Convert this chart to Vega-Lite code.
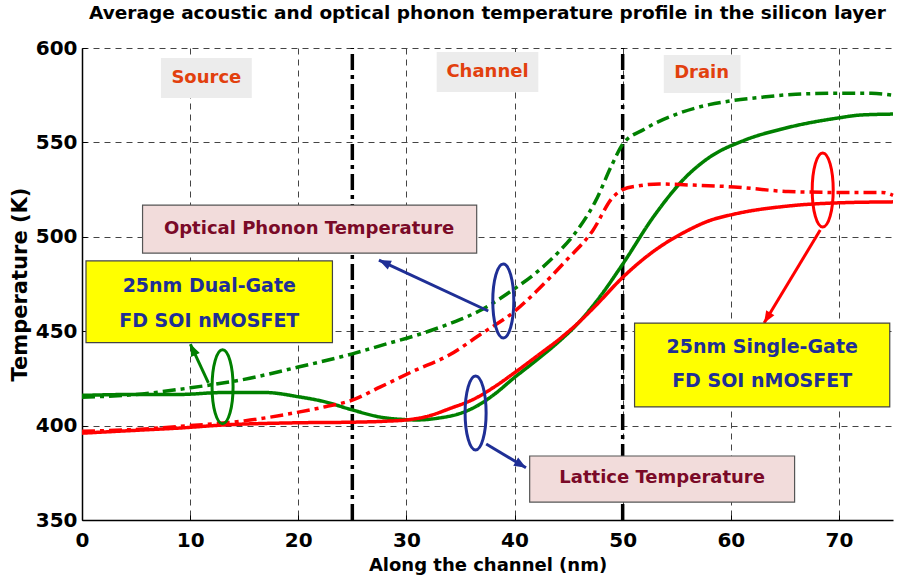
{
  "$schema": "https://vega.github.io/schema/vega-lite/v6.json",
  "width": 811,
  "height": 472,
  "autosize": {"type": "none"},
  "padding": {"left": 82, "top": 48, "right": 4, "bottom": 64},
  "background": "white",
  "title": {
    "text": "Average acoustic and optical phonon temperature profile in the silicon layer",
    "font": "DejaVu Sans", "fontSize": 18.5, "fontWeight": "bold", "color": "black",
    "anchor": "middle", "offset": 16
  },
  "config": {
    "view": {"stroke": null},
    "axis": {
      "labelFont": "DejaVu Sans", "labelFontWeight": "bold", "labelColor": "black",
      "titleFont": "DejaVu Sans", "titleFontWeight": "bold", "titleColor": "black",
      "grid": true, "gridColor": "#444", "gridDash": [6, 5], "gridWidth": 1,
      "domainColor": "black", "domainWidth": 1.5,
      "ticks": true, "tickColor": "black", "tickSize": -5, "tickWidth": 1
    }
  },
  "datasets": {
    "curves": [
      {"x":0,"y":415,"device":"Dual-Gate","type":"Optical"},
      {"x":5,"y":416.5,"device":"Dual-Gate","type":"Optical"},
      {"x":10,"y":420,"device":"Dual-Gate","type":"Optical"},
      {"x":15,"y":424.5,"device":"Dual-Gate","type":"Optical"},
      {"x":20,"y":431,"device":"Dual-Gate","type":"Optical"},
      {"x":25,"y":438,"device":"Dual-Gate","type":"Optical"},
      {"x":28,"y":443,"device":"Dual-Gate","type":"Optical"},
      {"x":31,"y":448,"device":"Dual-Gate","type":"Optical"},
      {"x":34,"y":454,"device":"Dual-Gate","type":"Optical"},
      {"x":37,"y":461.5,"device":"Dual-Gate","type":"Optical"},
      {"x":40,"y":472.5,"device":"Dual-Gate","type":"Optical"},
      {"x":42,"y":481,"device":"Dual-Gate","type":"Optical"},
      {"x":44,"y":491.5,"device":"Dual-Gate","type":"Optical"},
      {"x":46,"y":505,"device":"Dual-Gate","type":"Optical"},
      {"x":47.5,"y":519,"device":"Dual-Gate","type":"Optical"},
      {"x":49,"y":538,"device":"Dual-Gate","type":"Optical"},
      {"x":50,"y":549,"device":"Dual-Gate","type":"Optical"},
      {"x":52,"y":557,"device":"Dual-Gate","type":"Optical"},
      {"x":55,"y":565,"device":"Dual-Gate","type":"Optical"},
      {"x":58,"y":570,"device":"Dual-Gate","type":"Optical"},
      {"x":60,"y":572,"device":"Dual-Gate","type":"Optical"},
      {"x":63,"y":574,"device":"Dual-Gate","type":"Optical"},
      {"x":66,"y":575.5,"device":"Dual-Gate","type":"Optical"},
      {"x":70,"y":576,"device":"Dual-Gate","type":"Optical"},
      {"x":73,"y":576,"device":"Dual-Gate","type":"Optical"},
      {"x":75,"y":575,"device":"Dual-Gate","type":"Optical"},

      {"x":0,"y":416,"device":"Dual-Gate","type":"Lattice"},
      {"x":5,"y":416.5,"device":"Dual-Gate","type":"Lattice"},
      {"x":9,"y":416.5,"device":"Dual-Gate","type":"Lattice"},
      {"x":13,"y":417.5,"device":"Dual-Gate","type":"Lattice"},
      {"x":17,"y":417.5,"device":"Dual-Gate","type":"Lattice"},
      {"x":20,"y":415.3,"device":"Dual-Gate","type":"Lattice"},
      {"x":22.4,"y":412.7,"device":"Dual-Gate","type":"Lattice"},
      {"x":25,"y":408.3,"device":"Dual-Gate","type":"Lattice"},
      {"x":27.6,"y":404.5,"device":"Dual-Gate","type":"Lattice"},
      {"x":29.5,"y":403.3,"device":"Dual-Gate","type":"Lattice"},
      {"x":31,"y":403,"device":"Dual-Gate","type":"Lattice"},
      {"x":33,"y":404,"device":"Dual-Gate","type":"Lattice"},
      {"x":35,"y":406.5,"device":"Dual-Gate","type":"Lattice"},
      {"x":36.4,"y":410,"device":"Dual-Gate","type":"Lattice"},
      {"x":38,"y":416,"device":"Dual-Gate","type":"Lattice"},
      {"x":40,"y":425.5,"device":"Dual-Gate","type":"Lattice"},
      {"x":42,"y":434.5,"device":"Dual-Gate","type":"Lattice"},
      {"x":44,"y":444,"device":"Dual-Gate","type":"Lattice"},
      {"x":46,"y":455,"device":"Dual-Gate","type":"Lattice"},
      {"x":47.6,"y":466,"device":"Dual-Gate","type":"Lattice"},
      {"x":50,"y":485.5,"device":"Dual-Gate","type":"Lattice"},
      {"x":52.9,"y":511,"device":"Dual-Gate","type":"Lattice"},
      {"x":55.9,"y":532,"device":"Dual-Gate","type":"Lattice"},
      {"x":58,"y":542,"device":"Dual-Gate","type":"Lattice"},
      {"x":61.2,"y":551,"device":"Dual-Gate","type":"Lattice"},
      {"x":65,"y":557.5,"device":"Dual-Gate","type":"Lattice"},
      {"x":70,"y":563,"device":"Dual-Gate","type":"Lattice"},
      {"x":72,"y":564.5,"device":"Dual-Gate","type":"Lattice"},
      {"x":75,"y":565,"device":"Dual-Gate","type":"Lattice"},

      {"x":0,"y":397,"device":"Single-Gate","type":"Optical"},
      {"x":5,"y":398,"device":"Single-Gate","type":"Optical"},
      {"x":10,"y":400,"device":"Single-Gate","type":"Optical"},
      {"x":15,"y":402.5,"device":"Single-Gate","type":"Optical"},
      {"x":19.9,"y":407,"device":"Single-Gate","type":"Optical"},
      {"x":22.5,"y":410,"device":"Single-Gate","type":"Optical"},
      {"x":25,"y":413.5,"device":"Single-Gate","type":"Optical"},
      {"x":27.6,"y":420.5,"device":"Single-Gate","type":"Optical"},
      {"x":30.7,"y":429,"device":"Single-Gate","type":"Optical"},
      {"x":34,"y":437.5,"device":"Single-Gate","type":"Optical"},
      {"x":36.9,"y":448.5,"device":"Single-Gate","type":"Optical"},
      {"x":40,"y":460.5,"device":"Single-Gate","type":"Optical"},
      {"x":42,"y":471,"device":"Single-Gate","type":"Optical"},
      {"x":44.7,"y":487,"device":"Single-Gate","type":"Optical"},
      {"x":47.2,"y":503,"device":"Single-Gate","type":"Optical"},
      {"x":49.1,"y":521,"device":"Single-Gate","type":"Optical"},
      {"x":50,"y":525,"device":"Single-Gate","type":"Optical"},
      {"x":51.5,"y":527,"device":"Single-Gate","type":"Optical"},
      {"x":53.4,"y":528,"device":"Single-Gate","type":"Optical"},
      {"x":56,"y":527.5,"device":"Single-Gate","type":"Optical"},
      {"x":60.3,"y":526.4,"device":"Single-Gate","type":"Optical"},
      {"x":65.3,"y":524,"device":"Single-Gate","type":"Optical"},
      {"x":70,"y":523.5,"device":"Single-Gate","type":"Optical"},
      {"x":74,"y":523.5,"device":"Single-Gate","type":"Optical"},
      {"x":75,"y":522,"device":"Single-Gate","type":"Optical"},

      {"x":0,"y":396,"device":"Single-Gate","type":"Lattice"},
      {"x":5,"y":397.5,"device":"Single-Gate","type":"Lattice"},
      {"x":9,"y":398.7,"device":"Single-Gate","type":"Lattice"},
      {"x":13,"y":400.3,"device":"Single-Gate","type":"Lattice"},
      {"x":20,"y":401.5,"device":"Single-Gate","type":"Lattice"},
      {"x":25,"y":401.8,"device":"Single-Gate","type":"Lattice"},
      {"x":28,"y":402.3,"device":"Single-Gate","type":"Lattice"},
      {"x":30,"y":403,"device":"Single-Gate","type":"Lattice"},
      {"x":32,"y":405,"device":"Single-Gate","type":"Lattice"},
      {"x":34,"y":409,"device":"Single-Gate","type":"Lattice"},
      {"x":36.4,"y":414.5,"device":"Single-Gate","type":"Lattice"},
      {"x":38,"y":420,"device":"Single-Gate","type":"Lattice"},
      {"x":40,"y":428,"device":"Single-Gate","type":"Lattice"},
      {"x":42,"y":436.5,"device":"Single-Gate","type":"Lattice"},
      {"x":44.4,"y":447,"device":"Single-Gate","type":"Lattice"},
      {"x":46,"y":455,"device":"Single-Gate","type":"Lattice"},
      {"x":47.5,"y":463.5,"device":"Single-Gate","type":"Lattice"},
      {"x":50,"y":478.5,"device":"Single-Gate","type":"Lattice"},
      {"x":52.9,"y":492.5,"device":"Single-Gate","type":"Lattice"},
      {"x":55.9,"y":503,"device":"Single-Gate","type":"Lattice"},
      {"x":58,"y":508.5,"device":"Single-Gate","type":"Lattice"},
      {"x":60.3,"y":512,"device":"Single-Gate","type":"Lattice"},
      {"x":65.3,"y":516.3,"device":"Single-Gate","type":"Lattice"},
      {"x":70,"y":518,"device":"Single-Gate","type":"Lattice"},
      {"x":75,"y":518.5,"device":"Single-Gate","type":"Lattice"}
    ],
    "markers": [{"x": 25}, {"x": 50}],
    "regionBoxes": [
      {"label":"Source","x":7.3,"x2":15.7,"y":573.5,"y2":594.7,"xc":11.5,"yc":584},
      {"label":"Channel","x":32.8,"x2":42.2,"y":576.7,"y2":597.9,"xc":37.5,"yc":587.3},
      {"label":"Drain","x":53.8,"x2":60.9,"y":576.2,"y2":596.3,"xc":57.3,"yc":586.5}
    ],
    "pinkBoxes": [
      {"label":"Optical Phonon Temperature","x":5.6,"x2":36.5,"y":491.4,"y2":516.8,"xc":21.0,"yc":504.1},
      {"label":"Lattice Temperature","x":41.4,"x2":65.9,"y":359.5,"y2":383.9,"xc":53.65,"yc":372.3}
    ],
    "yellowBoxes": [
      {"x":0.37,"x2":23.16,"y":443.9,"y2":487.2},
      {"x":51.1,"x2":74.7,"y":409.9,"y2":454.3}
    ],
    "deviceText": [
      {"label":"25nm Dual-Gate","xc":11.77,"yc":473.9},
      {"label":"FD SOI nMOSFET","xc":11.77,"yc":455.6},
      {"label":"25nm Single-Gate","xc":62.9,"yc":441.5},
      {"label":"FD SOI nMOSFET","xc":62.9,"yc":423.4}
    ],
    "ellipses": [
      {"x":13.0,"y":420.6,"grp":"Dual-Gate"},
      {"x":38.96,"y":466,"grp":"Both"},
      {"x":36.4,"y":406.7,"grp":"Both"},
      {"x":68.5,"y":524.8,"grp":"Single-Gate"}
    ],
    "arrows": [
      {"x":11.69,"y":422.6,"x2":10.02,"y2":443.2,"grp":"Dual-Gate","angle":-25},
      {"x":37.57,"y":460.7,"x2":27.46,"y2":487.7,"grp":"Both","angle":-65},
      {"x":37.38,"y":390.3,"x2":41.06,"y2":377.7,"grp":"Both","angle":121},
      {"x":68.27,"y":503.6,"x2":63.08,"y2":454.3,"grp":"Single-Gate","angle":-149}
    ]
  },
  "layer": [
    {
      "data": {"name": "markers"},
      "mark": {"type": "rule", "color": "black", "strokeWidth": 3.5, "strokeDash": [16, 5, 4, 5]},
      "encoding": {
        "x": {"field": "x", "type": "quantitative",
              "scale": {"domain": [0, 75], "nice": false, "zero": false},
              "axis": {"values": [0,10,20,30,40,50,60,70], "title": "Along the channel (nm)",
                       "labelFontSize": 20, "labelPadding": 15, "titleFontSize": 18, "titlePadding": 6,
                       "labelFlush": false}},
        "y": {"datum": 350, "type": "quantitative",
              "scale": {"domain": [350, 600], "nice": false, "zero": false},
              "axis": {"values": [350,400,450,500,550,600], "title": "Temperature (K)",
                       "labelFontSize": 20, "labelPadding": 10, "titleFontSize": 21, "titlePadding": 5,
                       "labelFlush": false}},
        "y2": {"datum": 600}
      }
    },
    {
      "data": {"name": "curves"},
      "mark": {"type": "line", "strokeWidth": 3.5, "interpolate": "monotone"},
      "encoding": {
        "x": {"field": "x", "type": "quantitative", "scale": {"domain": [0, 75], "nice": false, "zero": false}},
        "y": {"field": "y", "type": "quantitative", "scale": {"domain": [350, 600], "nice": false, "zero": false}},
        "color": {"field": "device", "type": "nominal", "legend": null,
                  "scale": {"domain": ["Dual-Gate", "Single-Gate", "Both"], "range": ["#008000", "#ff0000", "#1f2f96"]}},
        "strokeDash": {"field": "type", "type": "nominal", "legend": null,
                       "scale": {"domain": ["Optical", "Lattice"], "range": [[13, 5, 4, 5], [1, 0]]}}
      }
    },
    {
      "data": {"name": "ellipses"},
      "mark": {"type": "point", "filled": false, "strokeWidth": 3, "opacity": 1,
               "shape": "M0,-1C0.157,-1 0.284,-0.552 0.284,0C0.284,0.552 0.157,1 0,1C-0.157,1 -0.284,0.552 -0.284,0C-0.284,-0.552 -0.157,-1 0,-1Z",
               "size": 5476},
      "encoding": {
        "x": {"field": "x", "type": "quantitative", "scale": {"domain": [0, 75], "nice": false, "zero": false}},
        "y": {"field": "y", "type": "quantitative", "scale": {"domain": [350, 600], "nice": false, "zero": false}},
        "color": {"field": "grp", "type": "nominal", "legend": null,
                  "scale": {"domain": ["Dual-Gate", "Single-Gate", "Both"], "range": ["#008000", "#ff0000", "#1f2f96"]}}
      }
    },
    {
      "data": {"name": "arrows"},
      "mark": {"type": "rule", "strokeWidth": 3},
      "encoding": {
        "x": {"field": "x", "type": "quantitative", "scale": {"domain": [0, 75], "nice": false, "zero": false}},
        "y": {"field": "y", "type": "quantitative", "scale": {"domain": [350, 600], "nice": false, "zero": false}},
        "x2": {"field": "x2"},
        "y2": {"field": "y2"},
        "color": {"field": "grp", "type": "nominal", "legend": null,
                  "scale": {"domain": ["Dual-Gate", "Single-Gate", "Both"], "range": ["#008000", "#ff0000", "#1f2f96"]}}
      }
    },
    {
      "data": {"name": "arrows"},
      "mark": {"type": "point", "filled": true, "opacity": 1, "shape": "M0,0L-0.4,1L0.4,1Z", "size": 576},
      "encoding": {
        "x": {"field": "x2", "type": "quantitative", "scale": {"domain": [0, 75], "nice": false, "zero": false}},
        "y": {"field": "y2", "type": "quantitative", "scale": {"domain": [350, 600], "nice": false, "zero": false}},
        "angle": {"field": "angle", "type": "quantitative", "scale": null},
        "color": {"field": "grp", "type": "nominal", "legend": null,
                  "scale": {"domain": ["Dual-Gate", "Single-Gate", "Both"], "range": ["#008000", "#ff0000", "#1f2f96"]}}
      }
    },
    {
      "data": {"name": "regionBoxes"},
      "mark": {"type": "rect", "fill": "#ececec", "stroke": null},
      "encoding": {
        "x": {"field": "x", "type": "quantitative", "scale": {"domain": [0, 75], "nice": false, "zero": false}},
        "x2": {"field": "x2"},
        "y": {"field": "y", "type": "quantitative", "scale": {"domain": [350, 600], "nice": false, "zero": false}},
        "y2": {"field": "y2"}
      }
    },
    {
      "data": {"name": "regionBoxes"},
      "mark": {"type": "text", "font": "DejaVu Sans", "fontWeight": "bold", "fontSize": 18, "color": "#e2400e", "baseline": "middle", "align": "center"},
      "encoding": {
        "x": {"field": "xc", "type": "quantitative", "scale": {"domain": [0, 75], "nice": false, "zero": false}},
        "y": {"field": "yc", "type": "quantitative", "scale": {"domain": [350, 600], "nice": false, "zero": false}},
        "text": {"field": "label"}
      }
    },
    {
      "data": {"name": "pinkBoxes"},
      "mark": {"type": "rect", "fill": "#f2dcdb", "stroke": "#555555", "strokeWidth": 1.2},
      "encoding": {
        "x": {"field": "x", "type": "quantitative", "scale": {"domain": [0, 75], "nice": false, "zero": false}},
        "x2": {"field": "x2"},
        "y": {"field": "y", "type": "quantitative", "scale": {"domain": [350, 600], "nice": false, "zero": false}},
        "y2": {"field": "y2"}
      }
    },
    {
      "data": {"name": "pinkBoxes"},
      "mark": {"type": "text", "font": "DejaVu Sans", "fontWeight": "bold", "fontSize": 18, "color": "#7a0a28", "baseline": "middle", "align": "center"},
      "encoding": {
        "x": {"field": "xc", "type": "quantitative", "scale": {"domain": [0, 75], "nice": false, "zero": false}},
        "y": {"field": "yc", "type": "quantitative", "scale": {"domain": [350, 600], "nice": false, "zero": false}},
        "text": {"field": "label"}
      }
    },
    {
      "data": {"name": "yellowBoxes"},
      "mark": {"type": "rect", "fill": "#ffff00", "stroke": "#444444", "strokeWidth": 1.2},
      "encoding": {
        "x": {"field": "x", "type": "quantitative", "scale": {"domain": [0, 75], "nice": false, "zero": false}},
        "x2": {"field": "x2"},
        "y": {"field": "y", "type": "quantitative", "scale": {"domain": [350, 600], "nice": false, "zero": false}},
        "y2": {"field": "y2"}
      }
    },
    {
      "data": {"name": "deviceText"},
      "mark": {"type": "text", "font": "DejaVu Sans", "fontWeight": "bold", "fontSize": 19, "color": "#1f2f96", "baseline": "middle", "align": "center"},
      "encoding": {
        "x": {"field": "xc", "type": "quantitative", "scale": {"domain": [0, 75], "nice": false, "zero": false}},
        "y": {"field": "yc", "type": "quantitative", "scale": {"domain": [350, 600], "nice": false, "zero": false}},
        "text": {"field": "label"}
      }
    }
  ]
}
